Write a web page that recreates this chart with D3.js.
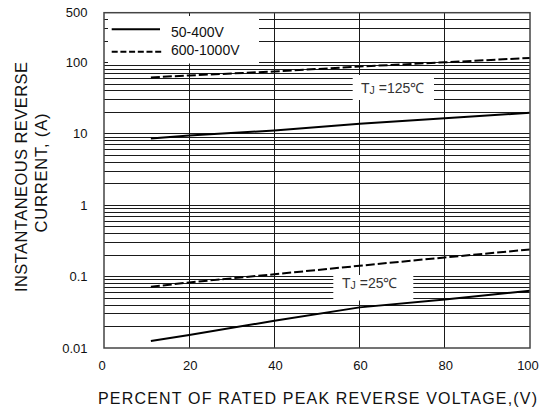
<!DOCTYPE html>
<html lang="en">
<head>
    <meta charset="UTF-8">
    <script src="https://d3js.org/d3.v7.min.js"></script>
    <title>Reverse current</title>
    <style>
        body { margin: 0; background: white; }
        text { font-family: "Liberation Sans", Arial, sans-serif; fill: #111; }
        .grid line { stroke: #1a1a1a; stroke-width: 1; shape-rendering: crispEdges; }
    </style>
</head>
<body>
<script>
    // ---------- data ----------
    const pct = [11, 20, 40, 60, 80, 100];
    // Tj = 125 C
    const hot_low = [8.6, 9.5, 11.2, 13.9, 16.6, 19.8];      // 50-400V
    const hot_high = [62, 66, 75, 88, 101, 116];             // 600-1000V
    // Tj = 25 C
    const cold_low = [0.0125, 0.0152, 0.0241, 0.0371, 0.048, 0.0633];
    const cold_high = [0.072, 0.083, 0.108, 0.142, 0.186, 0.240];

    const xTicks = [0, 20, 40, 60, 80, 100];
    const yTicks = [0.01, 0.1, 1, 10, 100, 500];
    const yTickLabels = ["0.01", "0.1", "1", "10", "100", "500"];
    const legendNames = ["50-400V", "600-1000V"];

    // ---------- layout ----------
    const W = 544, H = 409;
    const pLeft = 104, pRight = 530, pTop = 12.7, pBottom = 348;

    const svg = d3.select("body").append("svg")
        .attr("width", W)
        .attr("height", H);

    const x = d3.scaleLinear().domain([0, 100]).range([pLeft, pRight]);
    const y = d3.scaleLog().domain([0.01, 500]).range([pBottom, pTop]);

    // minor log grid: 1..9 per decade, up to 400
    let gridVals = [];
    for (let e = -2; e <= 2; e++) {
        for (let k = 1; k <= 9; k++) {
            const v = k * Math.pow(10, e);
            if (v > 0.01 && v < 500) gridVals.push(v);
        }
    }

    const grid = svg.append("g").attr("class", "grid");
    grid.selectAll(".h")
        .data(gridVals)
        .enter().append("line")
        .attr("x1", pLeft).attr("x2", pRight)
        .attr("y1", d => y(d)).attr("y2", d => y(d));
    grid.selectAll(".v")
        .data(xTicks.slice(1, -1))
        .enter().append("line")
        .attr("x1", d => x(d)).attr("x2", d => x(d))
        .attr("y1", pTop).attr("y2", pBottom);

    // white boxes that blank the grid (legend + temperature labels)
    const legendBox = { x: pLeft + 1, y: pTop + 1, w: 259 - pLeft - 1, h: 63.5 - pTop - 1 };
    svg.append("rect")
        .attr("x", legendBox.x).attr("y", legendBox.y)
        .attr("width", legendBox.w).attr("height", legendBox.h)
        .attr("fill", "white");

    // small inward ticks that stay visible inside the legend area
    svg.selectAll(".lt")
        .data([100, 200, 300, 400])
        .enter().append("line")
        .attr("x1", pLeft).attr("x2", pLeft + 3.5)
        .attr("y1", d => y(d)).attr("y2", d => y(d))
        .attr("stroke", "#1a1a1a").attr("shape-rendering", "crispEdges");
    svg.append("line")
        .attr("x1", x(20)).attr("x2", x(20))
        .attr("y1", pTop).attr("y2", pTop + 3.5)
        .attr("stroke", "#1a1a1a").attr("shape-rendering", "crispEdges");

    const labelBoxes = [
        { x: 352.7, y: 75, w: 81.3, h: 25, tx: 361, ty: 93, t: "125" },
        { x: 333.3, y: 275, w: 80, h: 25.5, tx: 342, ty: 288, t: "25" }
    ];
    labelBoxes.forEach(b => {
        svg.append("rect")
            .attr("x", b.x).attr("y", b.y)
            .attr("width", b.w).attr("height", b.h)
            .attr("fill", "white");
        const t = svg.append("text")
            .attr("x", b.tx).attr("y", b.ty)
            .attr("font-size", 14)
            .style("fill", "#333");
        t.append("tspan").text("T");
        t.append("tspan").attr("font-size", 10.5).attr("dy", 0.5).text("J");
        t.append("tspan").attr("dy", -0.5).text(" =" + b.t + "\u2103");
    });

    // ---------- curves ----------
    const line = d3.line()
        .x(d => x(d[0]))
        .y(d => y(d[1]));

    const series = [
        { v: hot_low, dash: null },
        { v: hot_high, dash: "9,3" },
        { v: cold_low, dash: null },
        { v: cold_high, dash: "9,3" }
    ];
    svg.selectAll(".curve")
        .data(series)
        .enter().append("path")
        .attr("d", s => line(pct.map((p, i) => [p, s.v[i]])))
        .attr("fill", "none")
        .attr("stroke", "black")
        .attr("stroke-width", 2)
        .attr("stroke-dasharray", s => s.dash);

    // ---------- frame ----------
    svg.append("rect")
        .attr("x", pLeft).attr("y", pTop)
        .attr("width", pRight - pLeft).attr("height", pBottom - pTop)
        .attr("fill", "none")
        .attr("stroke", "#444")
        .attr("stroke-width", 1.5);

    // ---------- legend ----------
    const legend = svg.append("g");
    legendNames.forEach((name, i) => {
        const ly = i === 0 ? 29.3 : 51.7;
        legend.append("line")
            .attr("x1", 111.7).attr("x2", i === 0 ? 160 : 163)
            .attr("y1", ly).attr("y2", ly)
            .attr("stroke", "black").attr("stroke-width", 2)
            .attr("stroke-dasharray", i === 0 ? null : "6,2.7");
        legend.append("text")
            .attr("x", 171).attr("y", i === 0 ? 32 : 49.5)
            .attr("dominant-baseline", "central")
            .attr("font-size", 14)
            .text(name);
    });

    // ---------- tick labels ----------
    svg.selectAll(".yl")
        .data(yTicks)
        .enter().append("text")
        .attr("x", 87.5)
        .attr("y", d => y(d))
        .attr("text-anchor", "end")
        .attr("dominant-baseline", "central")
        .attr("font-size", 13)
        .text((d, i) => yTickLabels[i]);

    svg.selectAll(".xl")
        .data(xTicks)
        .enter().append("text")
        .attr("x", d => d === 0 ? x(d) - 2 : (d === 100 ? 528 : x(d) + 1))
        .attr("y", 365)
        .attr("text-anchor", "middle")
        .attr("dominant-baseline", "central")
        .attr("font-size", 13)
        .text(d => d);

    // ---------- axis titles ----------
    svg.append("text")
        .attr("x", 317.5).attr("y", 404)
        .attr("text-anchor", "middle")
        .attr("font-size", 16)
        .attr("textLength", 439)
        .text("PERCENT OF RATED PEAK REVERSE VOLTAGE,(V)");

    svg.append("text")
        .attr("transform", "translate(27.3,177) rotate(-90)")
        .attr("text-anchor", "middle")
        .attr("font-size", 16.5)
        .attr("textLength", 230)
        .text("INSTANTANEOUS REVERSE");
    svg.append("text")
        .attr("transform", "translate(47,173) rotate(-90)")
        .attr("text-anchor", "middle")
        .attr("font-size", 16.5)
        .attr("textLength", 119)
        .text("CURRENT, (A)");
</script>
</body>
</html>
